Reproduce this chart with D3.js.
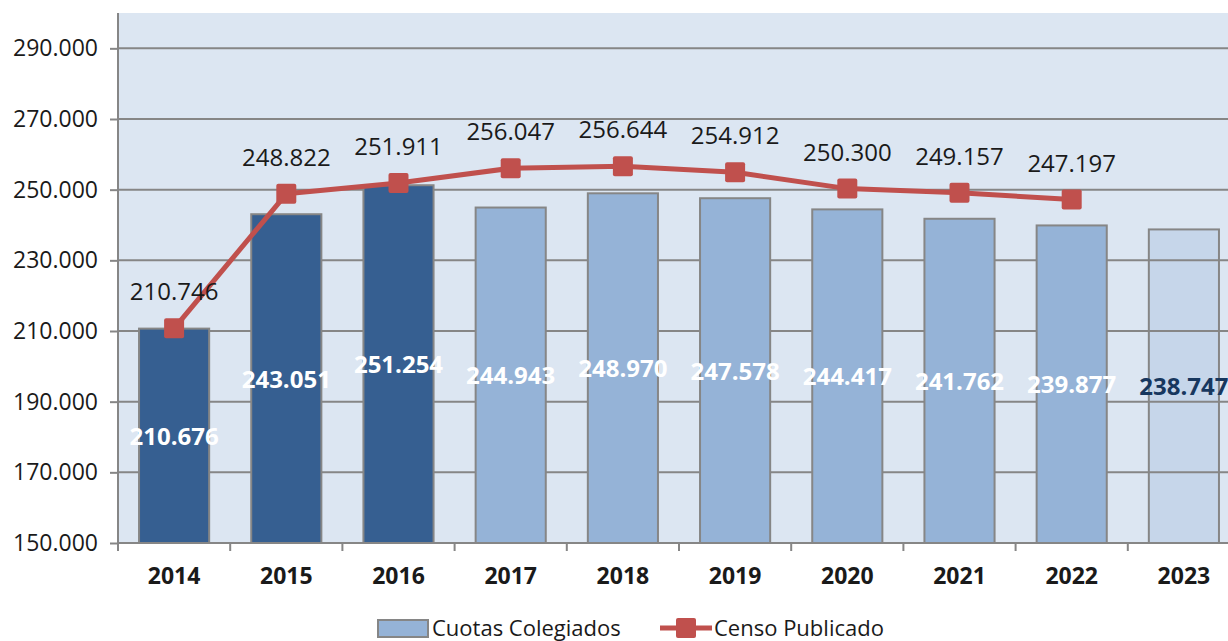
<!DOCTYPE html>
<html>
<head>
<meta charset="utf-8">
<script src="https://cdn.jsdelivr.net/npm/d3@7"></script>
<style>
  body { margin: 0; background: #fff; overflow: hidden; }
  svg { display: block; font-family: "Open Sans", "Noto Sans", sans-serif; }
</style>
</head>
<body>
<div id="chart"></div>
<script>
// data
const years = ["2014", "2015", "2016", "2017", "2018", "2019", "2020", "2021", "2022", "2023"];
const cuotas = [210676, 243051, 251254, 244943, 248970, 247578, 244417, 241762, 239877, 238747];
const censoYears = ["2014", "2015", "2016", "2017", "2018", "2019", "2020", "2021", "2022"];
const censo = [210746, 248822, 251911, 256047, 256644, 254912, 250300, 249157, 247197];
const yTicks = [150000, 170000, 190000, 210000, 230000, 250000, 270000, 290000];
const darkYears = ["2014", "2015", "2016"];
const lightYears = ["2023"];

const width = 1228, height = 641;
const plot = { left: 118, top: 13, right: 1240, bottom: 543 };

const es = d3.formatLocale({ decimal: ",", thousands: ".", grouping: [3], currency: ["", " €"] });
const fmt = es.format(",.0f");

const colorDark = "#365f91";
const colorMid = "#95b3d7";
const colorLight = "#c6d6ea";
const colorBg = "#dce6f2";
const colorGrid = "#868686";
const colorLine = "#c0504d";

const svg = d3.select("#chart").append("svg")
  .attr("width", width)
  .attr("height", height);

const x = d3.scaleBand()
  .domain(years)
  .range([plot.left, plot.right])
  .paddingInner(0.375)
  .paddingOuter(0.1875);

const y = d3.scaleLinear()
  .domain([150000, 300000])
  .range([plot.bottom, plot.top]);

// plot background
svg.append("rect")
  .attr("x", plot.left).attr("y", plot.top)
  .attr("width", plot.right - plot.left).attr("height", plot.bottom - plot.top)
  .attr("fill", colorBg);

// gridlines
svg.append("g")
  .selectAll("line")
  .data(yTicks.slice(1))
  .enter().append("line")
  .attr("x1", plot.left).attr("x2", plot.right)
  .attr("y1", d => y(d)).attr("y2", d => y(d))
  .attr("stroke", colorGrid)
  .attr("stroke-width", 2);

// bars
const barFill = d => darkYears.includes(d) ? colorDark : (lightYears.includes(d) ? colorLight : colorMid);
svg.append("g")
  .selectAll("rect")
  .data(years)
  .enter().append("rect")
  .attr("x", d => x(d))
  .attr("width", x.bandwidth())
  .attr("y", (d, i) => y(cuotas[i]))
  .attr("height", (d, i) => y(150000) - y(cuotas[i]))
  .attr("fill", barFill)
  .attr("stroke", colorGrid)
  .attr("stroke-width", 2);

// gridlines show through the (transparent) 2023 bar
lightYears.forEach(yr => {
  const i = years.indexOf(yr);
  svg.append("g")
    .selectAll("line")
    .data(yTicks.slice(1).filter(t => t < cuotas[i]))
    .enter().append("line")
    .attr("x1", x(yr)).attr("x2", x(yr) + x.bandwidth())
    .attr("y1", d => y(d)).attr("y2", d => y(d))
    .attr("stroke", colorGrid)
    .attr("stroke-width", 2);
});

// y axis
const yAxis = svg.append("g")
  .attr("transform", `translate(${plot.left},0)`)
  .call(d3.axisLeft(y).tickValues(yTicks).tickSize(8).tickPadding(12).tickFormat(fmt));
yAxis.select(".domain").remove();
yAxis.selectAll(".tick line").attr("stroke", colorGrid).attr("stroke-width", 2);
yAxis.selectAll(".tick text")
  .attr("fill", "#1a1a1a")
  .style("font-size", "23px")
  .style("font-family", "Open Sans, sans-serif");
svg.append("line")
  .attr("x1", plot.left).attr("x2", plot.left)
  .attr("y1", plot.top).attr("y2", plot.bottom + 8)
  .attr("stroke", colorGrid).attr("stroke-width", 2);

// x axis
svg.append("line")
  .attr("x1", plot.left).attr("x2", plot.right)
  .attr("y1", plot.bottom).attr("y2", plot.bottom)
  .attr("stroke", colorGrid).attr("stroke-width", 2);
const step = x.step();
svg.append("g")
  .selectAll("line")
  .data(years)
  .enter().append("line")
  .attr("x1", d => x(d) + x.bandwidth() / 2 + step / 2)
  .attr("x2", d => x(d) + x.bandwidth() / 2 + step / 2)
  .attr("y1", plot.bottom).attr("y2", plot.bottom + 8)
  .attr("stroke", colorGrid).attr("stroke-width", 2);
svg.append("g")
  .selectAll("text")
  .data(years)
  .enter().append("text")
  .attr("x", d => x(d) + x.bandwidth() / 2)
  .attr("y", 584)
  .attr("text-anchor", "middle")
  .style("font-size", "23px")
  .style("font-weight", "bold")
  .attr("fill", "#1a1a1a")
  .text(d => d);

// bar labels
svg.append("g")
  .selectAll("text")
  .data(years)
  .enter().append("text")
  .attr("x", d => x(d) + x.bandwidth() / 2)
  .attr("y", (d, i) => (y(cuotas[i]) + y(150000)) / 2 + 9)
  .attr("text-anchor", "middle")
  .style("font-size", "24px")
  .style("font-weight", "bold")
  .attr("fill", d => lightYears.includes(d) ? "#17375e" : "#ffffff")
  .text((d, i) => fmt(cuotas[i]));

// censo line
const line = d3.line()
  .x((d, i) => x(censoYears[i]) + x.bandwidth() / 2)
  .y(d => y(d));
svg.append("path")
  .datum(censo)
  .attr("d", line)
  .attr("fill", "none")
  .attr("stroke", colorLine)
  .attr("stroke-width", 5)
  .attr("stroke-linejoin", "round");
svg.append("g")
  .selectAll("rect")
  .data(censo)
  .enter().append("rect")
  .attr("x", (d, i) => x(censoYears[i]) + x.bandwidth() / 2 - 10)
  .attr("y", d => y(d) - 10)
  .attr("width", 20).attr("height", 20)
  .attr("rx", 2)
  .attr("fill", colorLine);
svg.append("g")
  .selectAll("text")
  .data(censo)
  .enter().append("text")
  .attr("x", (d, i) => x(censoYears[i]) + x.bandwidth() / 2)
  .attr("y", d => y(d) - 28)
  .attr("text-anchor", "middle")
  .style("font-size", "24px")
  .attr("fill", "#1a1a1a")
  .text(d => fmt(d));

// legend
const legend = svg.append("g").attr("transform", "translate(0, 628)");
legend.append("rect")
  .attr("x", 378).attr("y", -8).attr("width", 50).attr("height", 17)
  .attr("fill", colorMid).attr("stroke", colorGrid).attr("stroke-width", 2);
legend.append("text").attr("x", 432).attr("y", 8)
  .style("font-size", "22px").attr("fill", "#1a1a1a").text("Cuotas Colegiados");
legend.append("line")
  .attr("x1", 660).attr("x2", 712).attr("y1", 0).attr("y2", 0)
  .attr("stroke", colorLine).attr("stroke-width", 5);
legend.append("rect")
  .attr("x", 676).attr("y", -10).attr("width", 20).attr("height", 20)
  .attr("rx", 2).attr("fill", colorLine);
legend.append("text").attr("x", 714).attr("y", 8)
  .style("font-size", "22px").attr("fill", "#1a1a1a").text("Censo Publicado");
</script>
</body>
</html>
